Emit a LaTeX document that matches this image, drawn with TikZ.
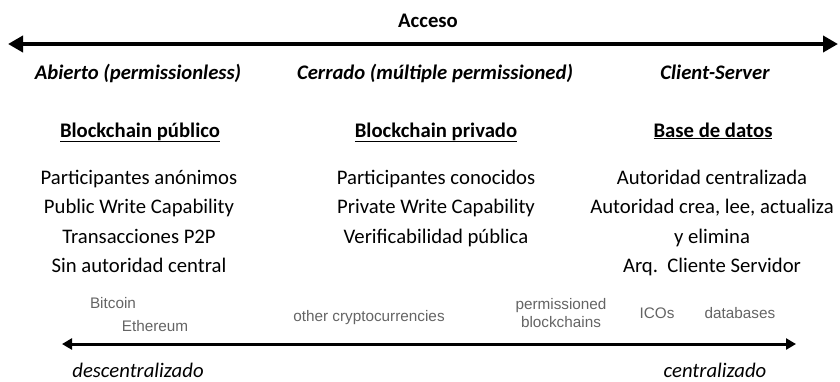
\documentclass[tikz,border=0pt]{standalone}
\usepackage{fontspec}
\setmainfont{Carlito}
\newfontfamily\helv{Liberation Sans}
\usetikzlibrary{arrows.meta}
\definecolor{graytxt}{RGB}{100,100,100}
\tikzset{
  main/.style={font=\fontsize{20.7}{29.5}\selectfont, anchor=base, align=center, inner sep=0pt},
  hdr/.style={main, font=\fontsize{20.7}{29.5}\selectfont\bfseries},
  cat/.style={main, font=\fontsize{20.7}{29.5}\selectfont\bfseries\itshape},
  ends/.style={main, font=\fontsize{20.7}{29.5}\selectfont\itshape},
  small/.style={font=\fontsize{15.3}{18}\selectfont\helv, text=graytxt, anchor=base, align=center, inner sep=0pt},
  bigarrow/.style={line width=4.5pt, {Triangle[length=15pt,width=16pt]}-{Triangle[length=15pt,width=16pt]}},
  lowarrow/.style={line width=3pt, {Triangle[length=10pt,width=11pt]}-{Triangle[length=10pt,width=11pt]}}
}
\begin{document}
\begin{tikzpicture}[x=1pt,y=-1pt]
\useasboundingbox (0,0) rectangle (840,381);
% top
\node[hdr] (acceso) at (428,27) {Acceso};
\coordinate (tl) at (8,44);
\coordinate (tr) at (838,44);
\draw[bigarrow] (tl) -- (tr);
\node[cat] (abierto) at (138,79) {Abierto (permissionless)};
\node[cat] (cerrado) at (435,79) {Cerrado (múltiple permissioned)};
\node[cat] (client) at (715,79) {Client-Server};
% headers
\node[hdr] (h1) at (140,137) {\underline{Blockchain público}};
\node[hdr] (h2) at (436,137) {\underline{Blockchain privado}};
\node[hdr] (h3) at (713,137) {\underline{Base de datos}};
% lists (base anchor = baseline of last line)
\node[main] (l1) at (139,272.5) {Participantes anónimos\\Public Write Capability\\Transacciones P2P\\Sin autoridad central};
\node[main] (l2) at (436,243) {Participantes conocidos\\Private Write Capability\\Verificabilidad pública};
\node[main] (l3) at (712,272.5) {Autoridad centralizada\\Autoridad crea, lee, actualiza\\y elimina\\Arq.\ \ Cliente Servidor};
% gray labels
\node[small] (btc) at (113,308) {Bitcoin};
\node[small] (eth) at (155,331) {Ethereum};
\node[small] (other) at (369,321) {other cryptocurrencies};
\node[small] (perm) at (561,327) {permissioned\\blockchains};
\node[small] (icos) at (657,318) {ICOs};
\node[small] (dbs) at (740,318) {databases};
% bottom arrow
\coordinate (bl) at (62,344);
\coordinate (br) at (796,344);
\draw[lowarrow] (bl) -- (br);
\node[ends] (desc) at (138,377) {descentralizado};
\node[ends] (cent) at (715,377) {centralizado};
\end{tikzpicture}
\end{document}
